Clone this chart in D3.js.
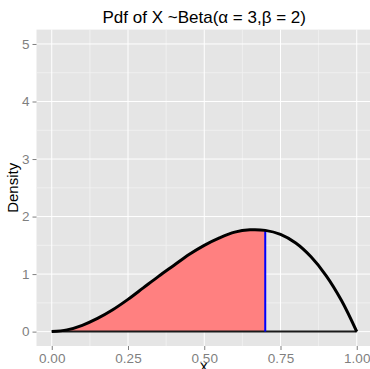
<!DOCTYPE html>
<html>
<head>
<meta charset="utf-8">
<script src="https://cdn.jsdelivr.net/npm/d3@7"></script>
<style>
  html, body { margin: 0; padding: 0; background: #fff; }
  svg { display: block; font-family: "Liberation Sans", Arial, sans-serif; }
</style>
</head>
<body>
<svg id="chart" width="370" height="369"></svg>
<script>
// density values
const xs = [0, 0.05, 0.1, 0.15, 0.2, 0.25, 0.3, 0.35, 0.4, 0.45, 0.5, 0.55, 0.6, 0.65, 0.7, 0.75, 0.8, 0.85, 0.9, 0.95, 1];
const density = [0, 0.03, 0.11, 0.23, 0.38, 0.56, 0.76, 0.96, 1.15, 1.34, 1.5, 1.63, 1.73, 1.77, 1.76, 1.69, 1.54, 1.3, 0.97, 0.54, 0];
const cutoff = 0.7;
const xTicks = [0, 0.25, 0.5, 0.75, 1];
const yTicks = [0, 1, 2, 3, 4, 5];
const titleText = "Pdf of X ~Beta(\u03B1 = 3,\u03B2 = 2)";

const svg = d3.select("#chart");
const pLeft = 36.5, pRight = 372, pTop = 29.6, pBottom = 346;

const x = d3.scaleLinear().domain([-0.05, 1.05]).range([pLeft, pRight]);
const y = d3.scaleLinear().domain([-0.25, 5.25]).range([pBottom, pTop]);

const pts = xs.map((v, i) => ({ x: v, y: density[i] }));

// panel
svg.append("rect")
  .attr("x", pLeft).attr("y", pTop)
  .attr("width", pRight - pLeft).attr("height", pBottom - pTop)
  .attr("fill", "#e5e5e5");

const xMinor = d3.pairs(xTicks).map(([a, b]) => (a + b) / 2);
const yMinor = d3.pairs(yTicks).map(([a, b]) => (a + b) / 2);

const grid = svg.append("g");
grid.selectAll(".xmin").data(xMinor).enter().append("line")
  .attr("x1", d => x(d)).attr("x2", d => x(d)).attr("y1", pTop).attr("y2", pBottom)
  .attr("stroke", "#f2f2f2").attr("stroke-width", 0.8);
grid.selectAll(".ymin").data(yMinor).enter().append("line")
  .attr("y1", d => y(d)).attr("y2", d => y(d)).attr("x1", pLeft).attr("x2", pRight)
  .attr("stroke", "#f2f2f2").attr("stroke-width", 0.8);
grid.selectAll(".xmaj").data(xTicks).enter().append("line")
  .attr("x1", d => x(d)).attr("x2", d => x(d)).attr("y1", pTop).attr("y2", pBottom)
  .attr("stroke", "#fff").attr("stroke-width", 1);
grid.selectAll(".ymaj").data(yTicks).enter().append("line")
  .attr("y1", d => y(d)).attr("y2", d => y(d)).attr("x1", pLeft).attr("x2", pRight)
  .attr("stroke", "#fff").attr("stroke-width", 1);

// shaded area up to cutoff
const area = d3.area().x(d => x(d.x)).y0(y(0)).y1(d => y(d.y)).curve(d3.curveCatmullRom);
svg.append("path")
  .datum(pts.filter(d => d.x <= cutoff))
  .attr("d", area)
  .attr("fill", "#ff8080");

// baseline
svg.append("line")
  .attr("x1", x(0)).attr("x2", x(1)).attr("y1", y(0)).attr("y2", y(0))
  .attr("stroke", "#1a1a1a").attr("stroke-width", 2);

// cutoff line
const cutY = density[xs.indexOf(cutoff)];
svg.append("line")
  .attr("x1", x(cutoff)).attr("x2", x(cutoff)).attr("y1", y(0)).attr("y2", y(cutY))
  .attr("stroke", "#0000ff").attr("stroke-width", 2);

// density curve
const line = d3.line().x(d => x(d.x)).y(d => y(d.y)).curve(d3.curveCatmullRom);
svg.append("path")
  .datum(pts)
  .attr("d", line)
  .attr("fill", "none")
  .attr("stroke", "#000")
  .attr("stroke-width", 3)
  .attr("stroke-linejoin", "round");

// axes
const xAxis = svg.append("g")
  .attr("transform", `translate(0,${pBottom})`)
  .call(d3.axisBottom(x).tickValues(xTicks).tickFormat(d3.format(".2f")).tickSizeOuter(0).tickSize(4).tickPadding(3));
const yAxis = svg.append("g")
  .attr("transform", `translate(${pLeft},0)`)
  .call(d3.axisLeft(y).tickValues(yTicks).tickFormat(d3.format("d")).tickSizeOuter(0).tickSize(4).tickPadding(3));
[xAxis, yAxis].forEach(g => {
  g.select(".domain").remove();
  g.selectAll(".tick line").attr("stroke", "#7f7f7f");
  g.selectAll(".tick text").attr("fill", "#7f7f7f").attr("font-size", 13.5)
    .attr("font-family", "Liberation Sans, Arial, sans-serif");
});

// titles
svg.append("text")
  .attr("x", (pLeft + pRight) / 2).attr("y", 22.5)
  .attr("text-anchor", "middle").attr("font-size", 17).attr("fill", "#000")
  .text(titleText);
svg.append("text")
  .attr("x", (pLeft + pRight) / 2 - 0.5).attr("y", 370.5)
  .attr("text-anchor", "middle").attr("font-size", 14.5).attr("fill", "#000")
  .text("x");
svg.append("text")
  .attr("transform", `translate(17.5,${(pTop + pBottom) / 2}) rotate(-90)`)
  .attr("text-anchor", "middle").attr("font-size", 15).attr("fill", "#000")
  .text("Density");
</script>
</body>
</html>
